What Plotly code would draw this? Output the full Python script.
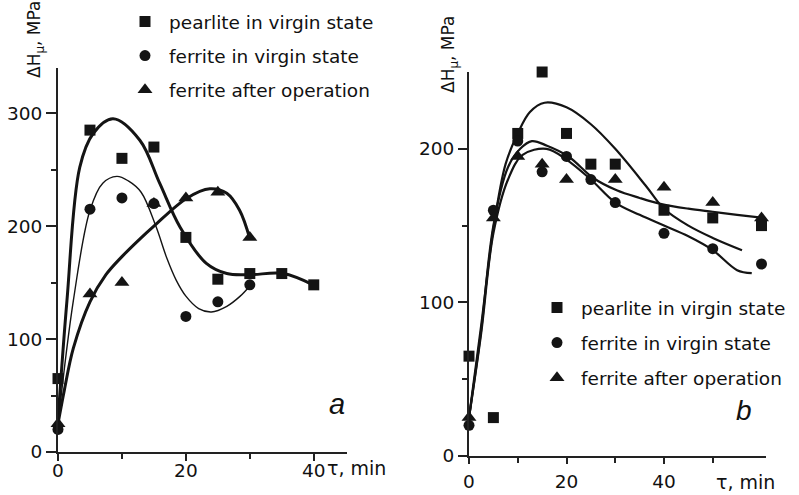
import plotly.graph_objects as go

# ---------------- data: panel a ----------------
a_pear_x = [0, 5, 10, 15, 20, 25, 30, 35, 40]
a_pear_y = [65, 285, 260, 270, 190, 153, 158, 158, 148]
a_ferv_x = [0, 5, 10, 15, 20, 25, 30]
a_ferv_y = [20, 215, 225, 220, 120, 133, 148]
a_fera_x = [0, 5, 10, 15, 20, 25, 30]
a_fera_y = [25, 140, 150, 220, 225, 230, 190]

# fitted curves
a_pear_cx = [0, 1.4, 3.4, 5.5, 8.6, 12.8, 15.9, 19.1, 23.2, 26.4, 30, 35.2, 39.9]
a_pear_cy = [28, 134, 252, 282, 295, 276, 238, 199, 167, 158, 157, 158, 148]
a_ferv_cx = [0, 2.4, 5, 7, 9.2, 11, 13, 15.3, 17, 18.5, 20, 22, 24, 26.4, 28.5, 30]
a_ferv_cy = [25, 134, 214, 238, 244, 240, 230, 200, 172, 152, 138, 127, 124, 129, 138, 147]
a_fera_cx = [0, 1, 2.4, 5, 7.5, 10, 12.5, 15, 20.1, 23.75, 26.4, 28.4, 30]
a_fera_cy = [25, 55, 92, 133, 157, 173, 187, 200, 224.5, 233, 229, 214, 189]

# ---------------- data: panel b ----------------
b_pear_x = [0, 5, 10, 15, 20, 25, 30, 40, 50, 60]
b_pear_y = [65, 25, 210, 250, 210, 190, 190, 160, 155, 150]
b_ferv_x = [0, 5, 10, 15, 20, 25, 30, 40, 50, 60]
b_ferv_y = [20, 160, 205, 185, 195, 180, 165, 145, 135, 125]
b_fera_x = [0, 5, 10, 15, 20, 30, 40, 50, 60]
b_fera_y = [25, 155, 195, 190, 180, 180, 175, 165, 155]

b_pear_cx = [0, 2.5, 5, 7.5, 10, 12.5, 15.5, 20, 25, 30, 36.5, 40, 45, 50, 56]
b_pear_cy = [25, 85, 148, 190, 210, 224, 230, 227, 216, 200, 175, 161, 150, 142, 134]
b_ferv_cx = [0, 2.5, 5, 8, 11, 15.9, 20, 25, 30, 35, 40, 45, 50, 55, 58]
b_ferv_cy = [25, 80, 145, 180, 196, 200, 193, 180, 165, 157, 150, 143, 134, 121, 119]
b_fera_cx = [0, 2.5, 5, 8, 10.5, 12.9, 16, 20.4, 25.5, 30.3, 35, 39.5, 45, 50, 55, 60.4]
b_fera_cy = [25, 82, 150, 188, 200, 205, 202, 195, 181, 173, 168, 164, 161, 159, 157, 155]

names = ["pearlite in virgin state", "ferrite in virgin state", "ferrite after operation"]
symbols = ["square", "circle", "triangle-up"]

FONT = "DejaVu Sans"
INK = "#141414"

fig = go.Figure()

def add_curve(x, y, xa, ya, width):
    fig.add_trace(go.Scatter(x=x, y=y, mode="lines", xaxis=xa, yaxis=ya,
                             line=dict(color=INK, width=width, shape="spline", smoothing=1.0),
                             showlegend=False, hoverinfo="skip"))

# panel a curves
add_curve(a_pear_cx, a_pear_cy, "x", "y", 3)
add_curve(a_ferv_cx, a_ferv_cy, "x", "y", 1.4)
add_curve(a_fera_cx, a_fera_cy, "x", "y", 3)
# panel b curves
add_curve(b_pear_cx, b_pear_cy, "x2", "y2", 2.2)
add_curve(b_ferv_cx, b_ferv_cy, "x2", "y2", 2.2)
add_curve(b_fera_cx, b_fera_cy, "x2", "y2", 2.2)

sizes = [11, 11, 13]
a_sets = [(a_pear_x, a_pear_y), (a_ferv_x, a_ferv_y), (a_fera_x, a_fera_y)]
b_sets = [(b_pear_x, b_pear_y), (b_ferv_x, b_ferv_y), (b_fera_x, b_fera_y)]
for i, (xs, ys) in enumerate(a_sets):
    fig.add_trace(go.Scatter(x=xs, y=ys, mode="markers", xaxis="x", yaxis="y",
                             name=names[i], legend="legend", legendgroup="a%d" % i,
                             marker=dict(symbol=symbols[i], size=sizes[i], color=INK),
                             cliponaxis=False))
for i, (xs, ys) in enumerate(b_sets):
    fig.add_trace(go.Scatter(x=xs, y=ys, mode="markers", xaxis="x2", yaxis="y2",
                             name=names[i], legend="legend2", legendgroup="b%d" % i,
                             marker=dict(symbol=symbols[i], size=sizes[i], color=INK),
                             cliponaxis=False))

W, H = 799, 495
def px(x):
    return x / W
def py(y):
    return 1 - y / H

axis_common = dict(showgrid=False, zeroline=False, showline=True, linecolor="#222",
                   linewidth=2, ticks="outside", tickcolor="#222", tickwidth=1.5,
                   automargin=False,
                   tickfont=dict(family=FONT, size=18.5, color="#111"))

fig.update_layout(
    template="none",
    width=W, height=H, margin=dict(l=0, r=0, t=0, b=0, autoexpand=False),
    paper_bgcolor="white", plot_bgcolor="rgba(0,0,0,0)",
    showlegend=True,
    xaxis=dict(domain=[px(58), px(347)], range=[0, 45.2], anchor="y",
               tickvals=[0, 20, 40], ticklen=7, ticklabelstandoff=-6,
               minor=dict(tickvals=[10, 30], ticklen=5, ticks="outside", tickcolor="#222"),
               **axis_common),
    yaxis=dict(domain=[py(452), py(68)], range=[0, 340], anchor="x",
               tickvals=[0, 100, 200, 300], ticklen=10,
               minor=dict(tickvals=[50, 150, 250], ticklen=5, ticks="outside", tickcolor="#222"),
               **axis_common),
    xaxis2=dict(domain=[px(469), px(469 + 61 * 4.875)], range=[0, 61], anchor="y2",
                tickvals=[0, 20, 40], ticklen=6, ticklabelstandoff=2,
                minor=dict(tickvals=[10, 30, 50], ticklen=5, ticks="outside", tickcolor="#222"),
                **axis_common),
    yaxis2=dict(domain=[py(456), py(72)], range=[0, 250], anchor="x2",
                tickvals=[0, 100, 200], ticklen=9,
                minor=dict(tickvals=[50, 150], ticklen=5, ticks="outside", tickcolor="#222"),
                **axis_common),
    legend=dict(x=px(121), y=py(3), xanchor="left", yanchor="top", itemwidth=38,
                font=dict(family=FONT, size=18.5, color="#111"),
                bgcolor="rgba(0,0,0,0)", tracegroupgap=7, itemclick=False),
    legend2=dict(x=px(533), y=py(289), xanchor="left", yanchor="top", itemwidth=38,
                 font=dict(family=FONT, size=18.5, color="#111"),
                 bgcolor="rgba(0,0,0,0)", tracegroupgap=8, itemclick=False),
)

ann_font = dict(family=FONT, size=17, color="#111")
fig.add_annotation(x=px(36), y=py(40), xref="paper", yref="paper", showarrow=False,
                   text="ΔH<sub>μ</sub>, MPa", textangle=-90, font=ann_font,
                   xanchor="center", yanchor="middle")
fig.add_annotation(x=px(449), y=py(55), xref="paper", yref="paper", showarrow=False,
                   text="ΔH<sub>μ</sub>, MPa", textangle=-90, font=ann_font,
                   xanchor="center", yanchor="middle")
fig.add_annotation(x=px(325), y=py(468), xref="paper", yref="paper", showarrow=False,
                   text="τ, min", font=dict(family=FONT, size=19, color="#111"),
                   xanchor="left", yanchor="middle")
fig.add_annotation(x=px(714), y=py(482), xref="paper", yref="paper", showarrow=False,
                   text="τ, min", font=dict(family=FONT, size=19, color="#111"),
                   xanchor="left", yanchor="middle")
fig.add_annotation(x=px(337), y=py(404), xref="paper", yref="paper", showarrow=False,
                   text="<i>a</i>", font=dict(family="Liberation Sans", size=29, color="#111"),
                   xanchor="center", yanchor="middle")
fig.add_annotation(x=px(744), y=py(410), xref="paper", yref="paper", showarrow=False,
                   text="<i>b</i>", font=dict(family="Liberation Sans", size=28, color="#111"),
                   xanchor="center", yanchor="middle")

fig.write_html("out.html", config={"displayModeBar": False},
               post_script="document.body.style.margin='0';document.body.style.overflow='hidden';")
